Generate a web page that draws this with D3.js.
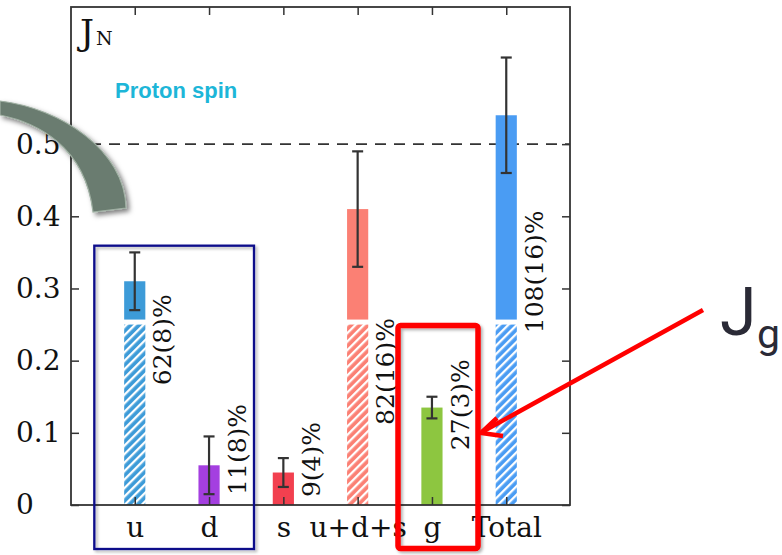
<!DOCTYPE html>
<html>
<head>
<meta charset="utf-8">
<script src="https://cdn.jsdelivr.net/npm/d3@7"></script>
<style>
  html, body { margin: 0; padding: 0; background: #fff; }
  svg { display: block; }
</style>
</head>
<body>
<svg id="chart" width="782" height="555"></svg>
<script>
// Angular momentum contributions J_N, given as percent of the proton spin (1/2)
const categories    = ["u", "d", "s", "u+d+s", "g", "Total"];
const percents      = [62, 11, 9, 82, 27, 108];
const percentErrors = [8, 8, 4, 16, 3, 16];
const hatchedTo     = [0.25, 0, 0, 0.25, 0, 0.25];      // striped lower part of the bar
const labelStart    = [0.166, 0.014, 0.011, 0.111, 0.076, 0.238];
const barColors     = ["#3d9bd8", "#a43fe0", "#f2404f", "#fb8074", "#8dc640", "#4a9cf3"];
const yTicks        = [0, 0.1, 0.2, 0.3, 0.4, 0.5];
const yTickLabels   = ["0", "0.1", "0.2", "0.3", "0.4", "0.5"];
const protonSpin    = 0.5;

const values = percents.map(p => p / 100 * protonSpin);
const errors = percentErrors.map(e => e / 100 * protonSpin);
const labels = percents.map((p, i) => `${p}(${percentErrors[i]})%`);

const svg = d3.select("#chart");
const frame = { left: 71, right: 570, top: 7, bottom: 505 };
const serif = "'DejaVu Serif', serif";
const ink = "#333";

const x = d3.scalePoint().domain(categories).range([frame.left, frame.right]).padding(0.858);
const y = d3.scaleLinear().domain([0, 0.69]).range([frame.bottom, frame.top]);
const barW = x.step() * 0.285;
const gap = 5;

svg.append("rect").attr("width", 782).attr("height", 555).attr("fill", "#fff");

const defs = svg.append("defs");
categories.forEach((c, i) => {
  if (hatchedTo[i] <= 0) return;
  const p = defs.append("pattern")
    .attr("id", "hatch" + i)
    .attr("patternUnits", "userSpaceOnUse")
    .attr("width", 6).attr("height", 6)
    .attr("patternTransform", "rotate(45)");
  p.append("rect").attr("width", 6).attr("height", 6).attr("fill", barColors[i]);
  p.append("rect").attr("x", 0).attr("width", 2.3).attr("height", 6).attr("fill", "#fff");
});
const sh = defs.append("filter").attr("id", "shadow")
  .attr("x", "-30%").attr("y", "-30%").attr("width", "160%").attr("height", "160%");
sh.append("feDropShadow").attr("dx", 3).attr("dy", 3).attr("stdDeviation", 2.4)
  .attr("flood-color", "#000").attr("flood-opacity", 0.5);
const soft = defs.append("filter").attr("id", "softShadow")
  .attr("x", "-10%").attr("y", "-10%").attr("width", "120%").attr("height", "120%");
soft.append("feDropShadow").attr("dx", 2).attr("dy", 2).attr("stdDeviation", 1.5)
  .attr("flood-color", "#000").attr("flood-opacity", 0.3);

// Proton spin reference line at 1/2
svg.append("line")
  .attr("x1", frame.left).attr("x2", frame.right)
  .attr("y1", y(protonSpin)).attr("y2", y(protonSpin))
  .attr("stroke", ink).attr("stroke-width", 1.8).attr("stroke-dasharray", "11,8");

// Bars: solid upper part, striped lower part where present
const bars = svg.append("g");
categories.forEach((c, i) => {
  const cx = x(c);
  const base = hatchedTo[i] > 0 ? y(hatchedTo[i]) - gap : y(0);
  bars.append("rect")
    .attr("x", cx - barW / 2).attr("width", barW)
    .attr("y", y(values[i])).attr("height", base - y(values[i]))
    .attr("fill", barColors[i]);
  if (hatchedTo[i] > 0) {
    bars.append("rect")
      .attr("x", cx - barW / 2).attr("width", barW)
      .attr("y", y(hatchedTo[i])).attr("height", y(0) - y(hatchedTo[i]))
      .attr("fill", `url(#hatch${i})`);
  }
});

// Error bars
const errs = svg.append("g").attr("stroke", ink).attr("stroke-width", 2.2);
categories.forEach((c, i) => {
  const cx = x(c), lo = y(values[i] - errors[i]), hi = y(values[i] + errors[i]);
  errs.append("line").attr("x1", cx).attr("x2", cx).attr("y1", lo).attr("y2", hi);
  errs.append("line").attr("x1", cx - 5.5).attr("x2", cx + 5.5).attr("y1", lo).attr("y2", lo);
  errs.append("line").attr("x1", cx - 5.5).attr("x2", cx + 5.5).attr("y1", hi).attr("y2", hi);
});

// Percentage labels, rotated beside each bar
svg.append("g").selectAll("text").data(categories).join("text")
  .attr("transform", (c, i) => `translate(${x(c) + barW / 2 + 26},${y(labelStart[i])}) rotate(-90)`)
  .attr("font-family", serif).attr("font-size", 25).attr("fill", "#111")
  .text((c, i) => labels[i]);

// Axes with inward ticks on all four sides
function styleAxis(g) {
  g.select(".domain").remove();
  g.selectAll(".tick line").attr("stroke", ink).attr("stroke-width", 1.5);
  g.selectAll(".tick text").attr("font-family", serif).attr("font-size", 28).attr("fill", "#111");
}
svg.append("g").attr("transform", `translate(${frame.left},0)`)
  .call(d3.axisLeft(y).tickValues(yTicks).tickFormat(d => yTickLabels[yTicks.indexOf(d)])
    .tickSizeInner(-8).tickSizeOuter(0))
  .call(styleAxis)
  .call(g => g.selectAll(".tick text").attr("x", -55).attr("text-anchor", "start"));
svg.append("g").attr("transform", `translate(${frame.right},0)`)
  .call(d3.axisRight(y).tickValues(yTicks).tickFormat("").tickSizeInner(-8).tickSizeOuter(0))
  .call(styleAxis);
svg.append("g").attr("transform", `translate(0,${frame.bottom})`)
  .call(d3.axisBottom(x).tickSizeInner(-8).tickSizeOuter(0).tickPadding(12))
  .call(styleAxis);
svg.append("g").attr("transform", `translate(0,${frame.top})`)
  .call(d3.axisTop(x).tickFormat("").tickSizeInner(-8).tickSizeOuter(0))
  .call(styleAxis);

svg.append("rect")
  .attr("x", frame.left).attr("y", frame.top)
  .attr("width", frame.right - frame.left).attr("height", frame.bottom - frame.top)
  .attr("fill", "none").attr("stroke", ink).attr("stroke-width", 1.8);

// Axis title J_N
const jn = svg.append("text").attr("x", 80).attr("y", 44.5)
  .attr("font-family", serif).attr("fill", "#111");
jn.append("tspan").attr("font-size", 35).text("J");
jn.append("tspan").attr("font-size", 19).attr("dx", 2).text("N");

svg.append("text").attr("x", 115).attr("y", 98)
  .attr("font-family", "'Liberation Sans', Arial, sans-serif").attr("font-weight", "bold")
  .attr("font-size", 22).attr("fill", "#1db6d8").text("Proton spin");

// Highlight boxes
svg.append("rect").attr("x", 94.3).attr("y", 245.7).attr("width", 159.7).attr("height", 303.3)
  .attr("fill", "none").attr("stroke", "#0c0c8a").attr("stroke-width", 2.3)
  .attr("filter", "url(#softShadow)");
svg.append("rect").attr("x", 398).attr("y", 325.5).attr("width", 80).attr("height", 223)
  .attr("rx", 2.5).attr("fill", "none").attr("stroke", "#ff0000").attr("stroke-width", 5.5)
  .attr("filter", "url(#softShadow)");

// Pointer to the gluon box
svg.append("line").attr("x1", 703).attr("y1", 310).attr("x2", 482).attr("y2", 432)
  .attr("stroke", "#ff0000").attr("stroke-width", 4.5);
svg.append("path").attr("d", "M497,418 L481,433 L503,436")
  .attr("fill", "none").attr("stroke", "#ff0000").attr("stroke-width", 4.5)
  .attr("stroke-linejoin", "miter");

// J_g caption
svg.append("text").attr("x", 720).attr("y", 335).attr("fill", "#2a2a36")
  .attr("font-family", "Roboto, 'Liberation Sans', sans-serif").attr("font-size", 66).text("J");
svg.append("text").attr("x", 757).attr("y", 348).attr("fill", "#2a2a36")
  .attr("font-family", "Roboto, 'Liberation Sans', sans-serif").attr("font-size", 41).text("g");

// Curved grey band entering from the left
svg.append("path")
  .attr("d", "M0,101 C60,108 125,150 126,208 L93,212 C85,145 35,122 0,115 Z")
  .attr("fill", "#6b7c6f").attr("stroke", "#9fb0a3").attr("stroke-width", 1.2)
  .attr("filter", "url(#shadow)");
</script>
</body>
</html>
